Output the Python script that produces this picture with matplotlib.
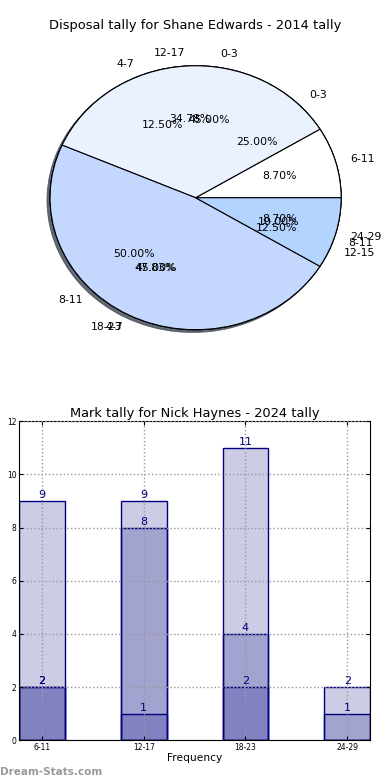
import matplotlib
matplotlib.use('Agg')
import matplotlib.pyplot as plt

# pie data (three tallies drawn on the same axes)
etiquetas_b = ['0-3', '4-7', '8-11', '12-15']
valores_b = [2, 1, 4, 1]
etiquetas_c = ['0-3', '4-7', '8-11']
valores_c = [9, 9, 2]
etiquetas_a = ['6-11', '12-17', '18-23', '24-29']
valores_a = [2, 8, 11, 2]
colores_pie = ['#ffffff', '#eaf2ff', '#c4d8ff', '#b3d4ff']

# bar data (overlaid series)
categorias = ['6-11', '12-17', '18-23', '24-29']
serie_1 = [9, 9, 11, 2]
serie_2 = [2, 8, 4, 1]
serie_3 = [2, 1, 2, 0]

fig = plt.figure(figsize=(3.9, 7.8), dpi=100)

# ---- pie ----
ax1 = fig.add_axes([0.035, 0.535, 0.933, 0.423])
for etiquetas, valores in [(etiquetas_b, valores_b), (etiquetas_c, valores_c), (etiquetas_a, valores_a)]:
    ax1.pie(valores, labels=etiquetas, colors=colores_pie, autopct='%.2f%%',
            shadow={'ox': -0.014, 'oy': -0.014, 'shade': 0.6},
            wedgeprops={'edgecolor': 'black', 'linewidth': 0.8},
            textprops={'fontsize': 7.8})
ax1.set_aspect('auto')
ax1.set_xlim(-1.25, 1.25)
ax1.set_ylim(-1.25, 1.25)
ax1.set_title('Disposal tally for Shane Edwards - 2014 tally', fontsize=9.4, pad=3)

# ---- bars ----
ax2 = fig.add_axes([0.049, 0.051, 0.9, 0.409])
x = list(range(len(categorias)))
ancho = 0.45
for serie in [serie_1, serie_2, serie_3]:
    barras = ax2.bar(x, serie, ancho, color=(0, 0, 0.5, 0.2), edgecolor='navy', linewidth=1)
    for xi, v in zip(x, serie):
        if v > 0:
            ax2.annotate(str(v), (xi, v), xytext=(0, 0.5), textcoords='offset points',
                         ha='center', va='bottom', fontsize=8, color='navy')

ax2.set_xlim(-ancho / 2, x[-1] + ancho / 2)
ax2.set_ylim(0, 12)
ax2.set_yticks(range(0, 13, 2))
ax2.set_xticks(x)
ax2.set_xticklabels(categorias)
ax2.tick_params(direction='in', top=True, right=True, labelsize=5.5, length=3, pad=2)
ax2.set_axisbelow(False)
ax2.grid(True, linestyle=':', color='#999999', linewidth=1)
ax2.set_xlabel('Frequency', fontsize=7.7, labelpad=1)
ax2.set_title('Mark tally for Nick Haynes - 2024 tally', fontsize=9.4, pad=3)

fig.text(0.0, 0.006, 'Dream-Stats.com', fontsize=7.5, color='#999999', fontweight='bold')

plt.savefig('out.png', dpi=100)
